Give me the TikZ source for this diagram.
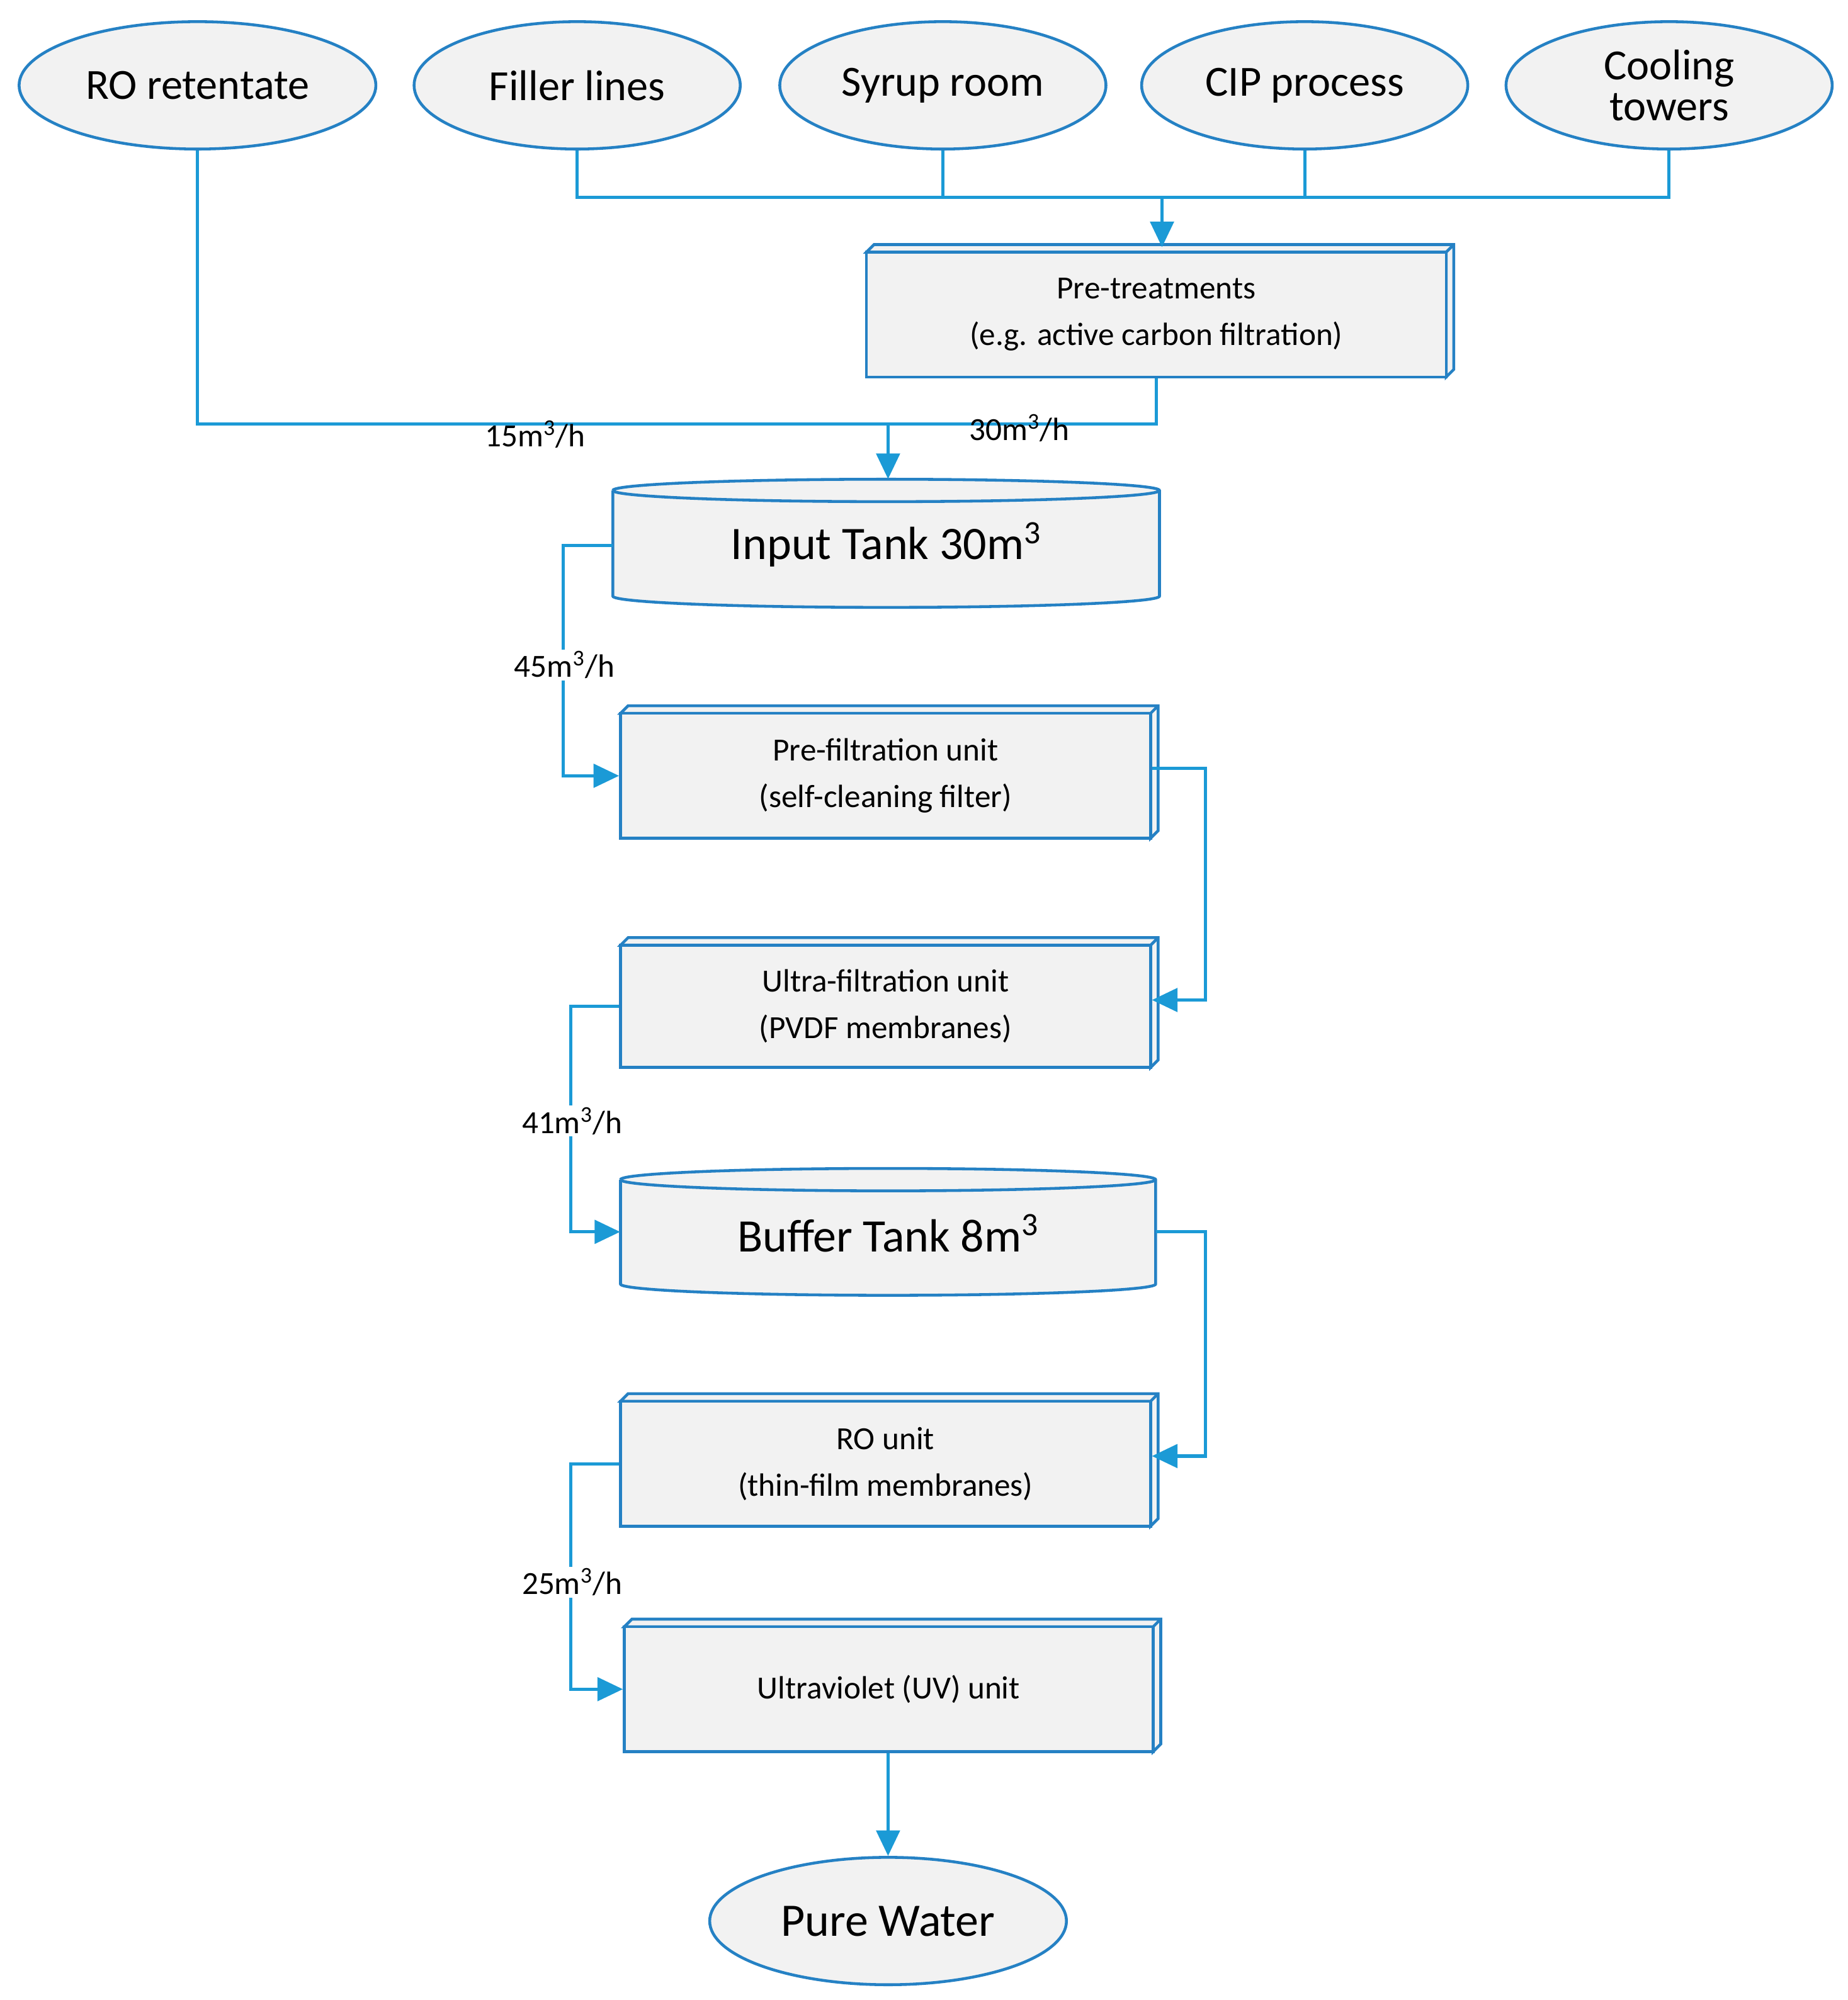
\documentclass[tikz,border=0pt]{standalone}
\usepackage{fontspec}
\setmainfont{Carlito}
\usetikzlibrary{arrows.meta,shapes.geometric}
\definecolor{ln}{HTML}{1B9AD6}
\definecolor{bd}{HTML}{2581C4}
\definecolor{fl}{HTML}{F2F2F2}
\tikzset{
 ell/.style={ellipse,draw=bd,fill=fl,line width=1.6pt,minimum width=64mm,minimum height=25mm,inner sep=0pt,font=\fontsize{24}{27}\selectfont,align=center},
 box/.style={draw=bd,fill=fl,line width=1.6pt,inner sep=0pt,font=\fontsize{18}{26}\selectfont,align=center},
 con/.style={draw=ln,line width=1.8pt},
 arr/.style={con,-{Triangle[length=5mm,width=4.6mm]}},
 lab/.style={fill=white,inner sep=1pt,font=\fontsize{18}{20}\selectfont}
}
\newcommand\tdbox[6]{% name,cx,cy,w,h,text
 \pgfmathsetmacro\xa{#2-#4/2}\pgfmathsetmacro\xb{#2+#4/2}
 \pgfmathsetmacro\ya{#3-#5/2}\pgfmathsetmacro\yb{#3+#5/2}
 \filldraw[draw=bd,fill=fl,line width=1.6pt] (\xa,\ya)--(\xa+6,\ya-6)--(\xb+6,\ya-6)--(\xb+6,\yb-6)--(\xb,\yb)--(\xb,\ya)--cycle (\xb,\ya)--(\xb+6,\ya-6);
 \node[box,minimum width=#4*0.25mm,minimum height=#5*0.25mm] (#1) at (#2,#3) {#6};}
\newcommand\tank[6]{% name,x1,x2,ytop,ybot,text
 \pgfmathsetmacro\cx{(#2+#3)/2}\pgfmathsetmacro\rx{(#3-#2)/2*0.25}
 \filldraw[draw=bd,fill=fl,line width=1.6pt] (#2,#4) -- (#2,#5) arc[start angle=180,end angle=360,x radius=\rx mm,y radius=2.2mm] -- (#3,#4) arc[start angle=0,end angle=180,x radius=\rx mm,y radius=2.2mm];
 \draw[draw=bd,line width=1.6pt] (#2,#4) arc[start angle=180,end angle=360,x radius=\rx mm,y radius=2.2mm];
 \node[inner sep=0pt,minimum width=(#3-#2)*0.25mm,minimum height=(#5-#4+18)*0.25mm,font=\fontsize{26}{28}\selectfont] (#1) at (\cx,{(#4+#5)/2+1}) {#6};}
\newcommand\cub{\textsuperscript{3}}
\begin{document}
\begin{tikzpicture}[x=0.25mm,y=-0.25mm]
\useasboundingbox (0,0) rectangle (1450,1570);
\node[ell,minimum width=70mm] (ro) at (155,67) {RO retentate};
\node[ell] (fil) at (453,67) {Filler lines};
\node[ell] (syr) at (740,67) {Syrup room};
\node[ell] (cip) at (1024,67) {CIP process};
\node[ell] (coo) at (1310,67) {Cooling\\[-4pt]towers};
\tdbox{pre}{907.5}{247}{455}{98}{Pre-treatments\\(e.g. active carbon filtration)}
\tank{it}{481}{910}{385}{468}{Input Tank 30m\cub}
\tdbox{pf}{695}{609}{416}{98}{Pre-filtration unit\\(self-cleaning filter)}
\tdbox{uf}{695}{790}{416}{96}{Ultra-filtration unit\\(PVDF membranes)}
\tank{bt}{487}{907}{926}{1008}{Buffer Tank 8m\cub}
\tdbox{rou}{695}{1149}{416}{98}{RO unit\\(thin-film membranes)}
\tdbox{uv}{697.5}{1326}{415}{98}{Ultraviolet (UV) unit}
\node[ell,minimum width=70mm,font=\fontsize{26}{28}\selectfont] (pw) at (697,1508) {Pure Water};
\coordinate (bus) at (912,155);
\draw[con] (fil.south) -- (453,155) -- (1310,155) -- (coo.south);
\draw[con] (syr.south) -- (740,155);
\draw[con] (cip.south) -- (1024,155);
\draw[arr] (bus) -- (912,194);
\coordinate (jn) at (697,333);
\draw[con] (ro.south) |- (jn);
\draw[con] (pre.south) |- (jn);
\draw[arr] (jn) -- (697,376);
\node[lab,fill=none] at (420,341) {15m\cub/h};
\node[lab,fill=none] at (800,336) {30m\cub/h};
\draw[arr] (it.west|-0,428) -- (442,428) |- (pf.west);
\node[lab] at (443,522) {45m\cub/h};
\draw[arr] (pf.east|-0,603) -- (946,603) |- (uf.east|-0,785);
\draw[arr] (uf.west) -- (448,790) |- (bt.west|-0,967);
\node[lab] at (449,880) {41m\cub/h};
\draw[arr] (bt.east|-0,967) -- (946,967) |- (rou.east|-0,1143);
\draw[arr] (rou.west) -- (448,1149) |- (uv.west);
\node[lab] at (449,1242) {25m\cub/h};
\draw[arr] (uv.south-|697,0) -- (pw.north);
\end{tikzpicture}
\end{document}
